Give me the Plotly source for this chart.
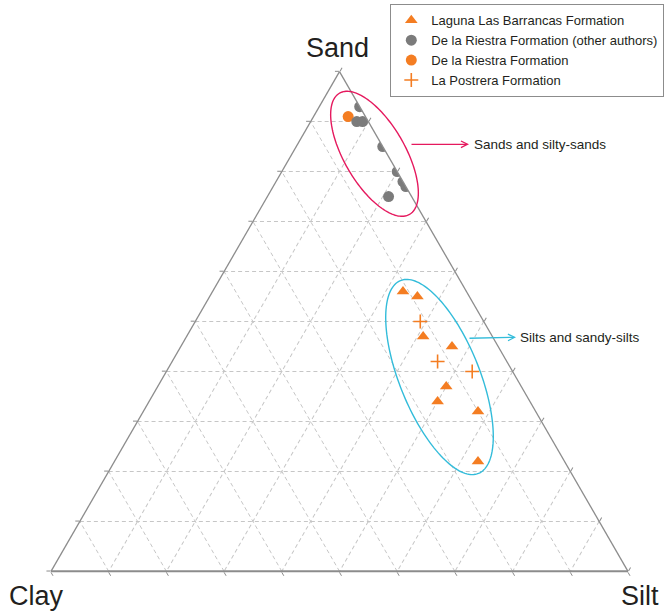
import numpy as np
import plotly.graph_objects as go

# ---------------- data (percent Sand, Clay, Silt) ----------------
laguna_sand = [56, 55, 47, 45, 37, 34, 32, 22]
laguna_clay = [11, 9, 12, 8, 13, 16, 10, 15]
laguna_silt = [33, 36, 41, 47, 50, 50, 58, 63]

riestra_other_sand = [93, 90, 90, 85, 80, 78, 77, 75]
riestra_other_clay = [0, 2, 1, 0, 0, 0, 0, 4]
riestra_other_silt = [7, 8, 9, 15, 20, 22, 23, 21]

riestra_sand = [91]
riestra_clay = [3]
riestra_silt = [6]

postrera_sand = [50, 42, 40]
postrera_clay = [11, 12, 7]
postrera_silt = [39, 46, 53]

corner_labels = ["Sand", "Clay", "Silt"]
group_labels = ["Sands and silty-sands", "Silts and sandy-silts"]

# ---------------- style ----------------
W, H = 667, 611
FONT = "Liberation Sans, Arial, sans-serif"
ORANGE = "#F47D22"
GRAY = "#7b7b7b"
PINK = "#E5195E"
BLUE = "#33BCDA"
TXT = "#231f20"


def px(x):
    return x / W


def py(y):
    return 1 - y / H


def ellipse_path(cx, cy, a, b, theta_deg, n=160):
    t = np.linspace(0, 2 * np.pi, n)
    th = np.radians(theta_deg)
    x = cx + a * np.cos(t) * np.cos(th) - b * np.sin(t) * np.sin(th)
    y = cy + a * np.cos(t) * np.sin(th) + b * np.sin(t) * np.cos(th)
    pts = [f"{px(xx):.5f},{py(yy):.5f}" for xx, yy in zip(x, y)]
    return "M " + " L ".join(pts) + " Z"


fig = go.Figure()

fig.add_trace(go.Scatterternary(
    a=laguna_sand, b=laguna_clay, c=laguna_silt, mode="markers",
    name="Laguna Las Barrancas Formation", legendrank=1,
    marker=dict(symbol="triangle-up", size=11, color=ORANGE, line=dict(width=0)),
))
fig.add_trace(go.Scatterternary(
    a=riestra_sand, b=riestra_clay, c=riestra_silt, mode="markers",
    name="De la Riestra Formation", legendrank=3,
    marker=dict(symbol="circle", size=11, color=ORANGE, line=dict(width=0)),
))
fig.add_trace(go.Scatterternary(
    a=riestra_other_sand, b=riestra_other_clay, c=riestra_other_silt, mode="markers",
    name="De la Riestra Formation (other authors)", legendrank=2,
    marker=dict(symbol="circle", size=11, color=GRAY, line=dict(width=0)),
))
fig.add_trace(go.Scatterternary(
    a=postrera_sand, b=postrera_clay, c=postrera_silt, mode="markers",
    name="La Postrera Formation", legendrank=4,
    marker=dict(symbol="cross-thin", size=10, color=ORANGE,
                line=dict(width=1.6, color=ORANGE)),
))

axis_common = dict(
    min=0, dtick=10, showticklabels=False, title=dict(text=""),
    showgrid=True, gridcolor="#c6c6c6", griddash="4px,3px", gridwidth=1,
    showline=True, linecolor="#8c8c8c", linewidth=1.3,
    ticks="outside", ticklen=4, tickcolor="#8c8c8c", tickwidth=1,
)

fig.update_layout(
    width=W, height=H, autosize=False,
    margin=dict(l=0, r=0, t=0, b=0),
    paper_bgcolor="white",
    font=dict(family=FONT, color=TXT),
    ternary=dict(
        sum=100,
        bgcolor="white",
        domain=dict(x=[px(51), px(628)], y=[py(572), py(71)]),
        aaxis=axis_common,
        baxis={**axis_common, "linewidth": 2},
        caxis=axis_common,
    ),
    legend=dict(
        x=px(390), y=py(4), xanchor="left", yanchor="top",
        bgcolor="white", bordercolor="#8c8c8c", borderwidth=1.3,
        font=dict(family=FONT, size=13, color=TXT),
        itemwidth=30, tracegroupgap=0,
    ),
    showlegend=True,
)

# ellipses (group outlines)
fig.add_shape(type="path", xref="paper", yref="paper",
              path=ellipse_path(374.5, 153.8, 70, 30.5, 60),
              line=dict(color=PINK, width=1.4))
fig.add_shape(type="path", xref="paper", yref="paper",
              path=ellipse_path(439.5, 377, 104, 40, 68),
              line=dict(color=BLUE, width=1.4))

# arrows
fig.add_annotation(x=px(469), y=py(144.3), xref="paper", yref="paper", text="",
                   showarrow=True, ax=-59, ay=0, arrowhead=5, arrowsize=1,
                   arrowwidth=1.3, arrowcolor=PINK, standoff=0)
fig.add_annotation(x=px(516), y=py(337.3), xref="paper", yref="paper", text="",
                   showarrow=True, ax=-48, ay=1, arrowhead=5, arrowsize=1,
                   arrowwidth=1.3, arrowcolor=BLUE, standoff=0)

fig.add_annotation(x=px(472), y=py(144.5), xref="paper", yref="paper",
                   text=group_labels[0], showarrow=False, xanchor="left", yanchor="middle",
                   font=dict(family=FONT, size=13.5, color=TXT))
fig.add_annotation(x=px(518), y=py(337.5), xref="paper", yref="paper",
                   text=group_labels[1], showarrow=False, xanchor="left", yanchor="middle",
                   font=dict(family=FONT, size=13.5, color=TXT))

# corner labels
fig.add_annotation(x=px(337), y=py(48), xref="paper", yref="paper", text=corner_labels[0],
                   showarrow=False, xanchor="center", yanchor="middle",
                   font=dict(family=FONT, size=27, color=TXT))
fig.add_annotation(x=px(7), y=py(596), xref="paper", yref="paper", text=corner_labels[1],
                   showarrow=False, xanchor="left", yanchor="middle",
                   font=dict(family=FONT, size=27, color=TXT))
fig.add_annotation(x=px(661), y=py(596), xref="paper", yref="paper", text=corner_labels[2],
                   showarrow=False, xanchor="right", yanchor="middle",
                   font=dict(family=FONT, size=27, color=TXT))

fig.write_html("out.html", config={"displayModeBar": False},
               post_script="document.body.style.margin='0';")
